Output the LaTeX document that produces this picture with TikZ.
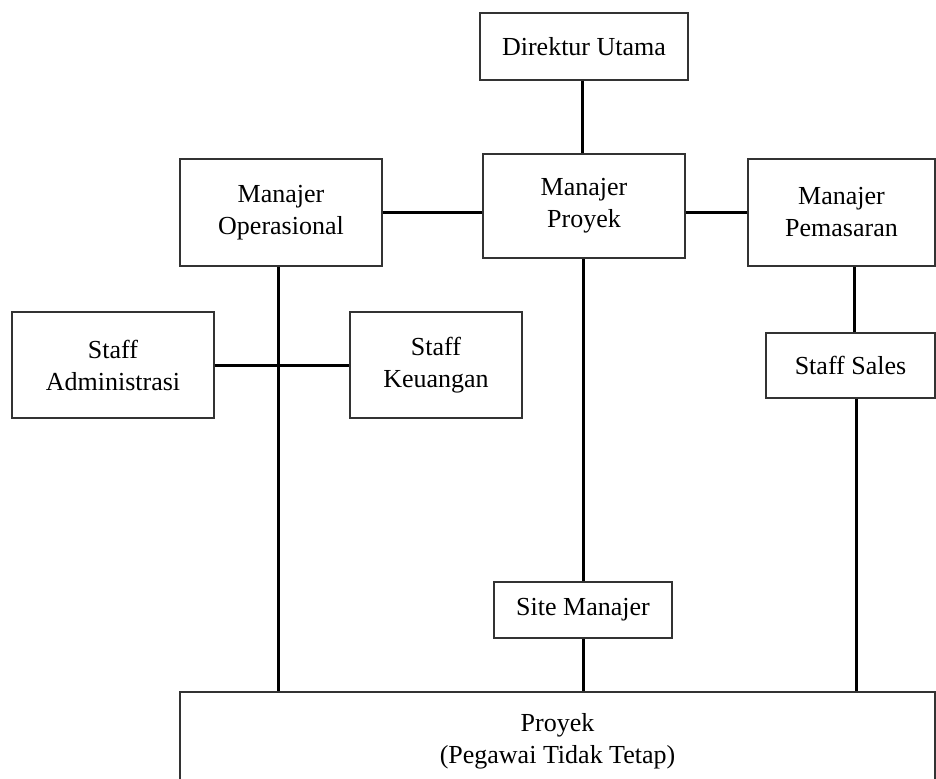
\documentclass[tikz,border=0pt]{standalone}
\usepackage{fontspec}
\setmainfont{Liberation Serif}

\begin{document}
\begin{tikzpicture}
[x=0.5pt,y=-0.5pt,
  lineDecorate/.style={-,line width=1.5pt},%
  boxDecorate/.style={shape=rectangle,draw=black!80,line width=0.6pt,inner sep=0pt,
    align=center,font=\fontsize{13}{16}\selectfont}]
\useasboundingbox (0,0) rectangle (936,778);
%% boxes
\foreach \boxname/\x/\y/\w/\h/\txt in {
  dir/584/46.5/208/67/{Direktur Utama},
  mpro/584/206/202/104/{Manajer\\Proyek},
  mop/281/212.5/202/107/{Manajer\\Operasional},
  mpem/841.5/212.5/187/107/{Manajer\\Pemasaran},
  adm/113/365/202/106/{Staff\\Administrasi},
  keu/436/365/172/106/{Staff\\Keuangan},
  sales/850.5/365.5/169/65/{Staff Sales},
  site/583/610/178/56/{Site Manajer},
  proj/557.5/741/755/98/{Proyek\\(Pegawai Tidak Tetap)}}
{
  \node (\boxname) at (\x,\y) [boxDecorate,minimum width=\w*0.5pt,minimum height=\h*0.5pt] {\txt};
}
%% lines
\draw[lineDecorate] ([xshift=-1pt]dir.south) -- ([xshift=-1pt]dir.south |- mpro.north);
\draw[lineDecorate] (mop.east) -- (mop.east -| mpro.west);
\draw[lineDecorate] (mpem.west) -- (mpem.west -| mpro.east);
\draw[lineDecorate] (adm) -- (keu);
\draw[lineDecorate] ([xshift=2pt]sales.north) -- ([xshift=2pt]sales.north |- mpem.south);
\draw[lineDecorate] ([xshift=2.8pt]sales.south) -- ([xshift=2.8pt]sales.south |- proj.north);
\draw[lineDecorate] ([xshift=-1.5pt]mop.south) -- ([xshift=-1.5pt]mop.south |- proj.north);
\foreach \n in {site}
{
  \draw[lineDecorate] (\n.north) -- (\n.north |- mpro.south);
  \draw[lineDecorate] (\n.south) -- (\n.south |- proj.north);
}
\end{tikzpicture}
\end{document}
